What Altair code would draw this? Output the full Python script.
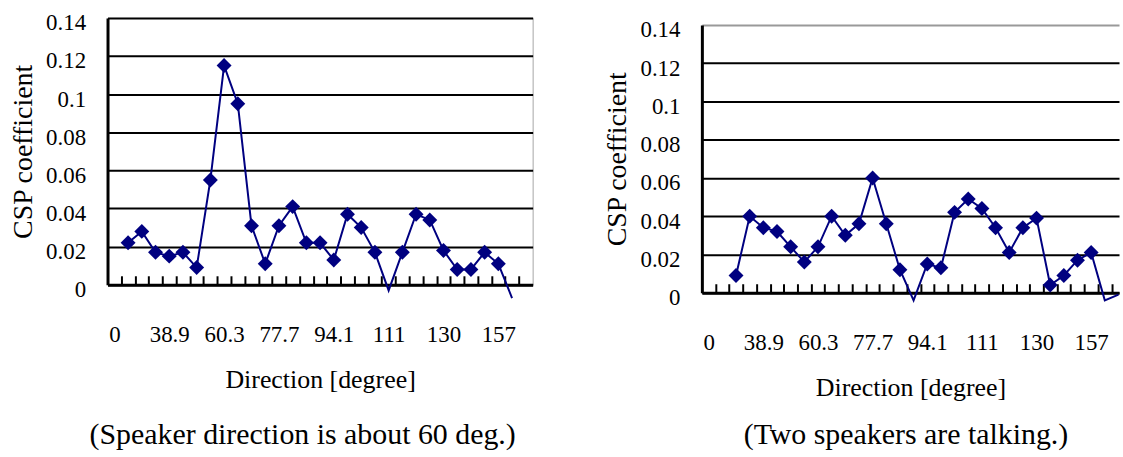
import json
import altair as alt
import pandas as pd

# ---------------- data ----------------
directions = list(range(31))  # category index along the direction axis
tick_label_pos = [0, 4, 8, 12, 16, 20, 24, 28]
tick_labels = ["0", "38.9", "60.3", "77.7", "94.1", "111", "130", "157"]
y_ticks = [0, 0.02, 0.04, 0.06, 0.08, 0.1, 0.12, 0.14]

left_vals = [None, 0.022, 0.028, 0.017, 0.015, 0.017, 0.009, 0.055, 0.115, 0.095,
             0.031, 0.011, 0.031, 0.041, 0.022, 0.022, 0.013, 0.037, 0.030, 0.017,
             -0.003, 0.017, 0.037, 0.034, 0.018, 0.008, 0.008, 0.017, 0.011, -0.007,
             None]
right_vals = [None, None, 0.009, 0.040, 0.034, 0.032, 0.024, 0.016, 0.024, 0.040,
              0.030, 0.036, 0.060, 0.036, 0.012, -0.004, 0.015, 0.013, 0.042, 0.049,
              0.044, 0.034, 0.021, 0.034, 0.039, 0.004, 0.009, 0.017, 0.021, -0.004,
              -0.001]

left_caption = ["(Speaker direction is about 60 deg.)"]
right_caption = ["(Two speakers are talking.)"]
x_title = "Direction [degree]"
y_title = "CSP coefficient"

FONT = "Liberation Serif"
NAVY = "#000080"


def panel(vals, width, height, top_gap, xmax, caption, cap_x, cap_y, top_grid_color, view_stroke,
          spacer_y=None):
    df = pd.DataFrame({"dir": directions, "csp": vals}).dropna()
    df_pts = df[df["csp"] >= 0]
    xscale = alt.Scale(domain=[-0.5, xmax], nice=False, zero=False)
    yscale = alt.Scale(domain=[0, 0.14], nice=False, zero=False, range=[height, top_gap])
    label_expr = f"{json.dumps(tick_labels)}[indexof({json.dumps(tick_label_pos)}, datum.value)]"

    def y_axis():
        return alt.Axis(
            values=y_ticks, format="~g", ticks=False, tickSize=0,
            domainColor="black", domainWidth=3,
            grid=True, gridWidth=2,
            gridColor=alt.condition("datum.value >= 0.139", alt.value(top_grid_color), alt.value("black")),
            labelFont=FONT, labelFontSize=23, labelColor="black", labelPadding=22, labelOffset=5,
            title=y_title, titleFont=FONT, titleFontSize=28, titleFontWeight="normal",
            titleColor="black", titlePadding=8,
        )

    tick_axis = alt.Axis(
        orient="top", offset=-height, values=[i + 0.5 for i in range(30)],
        tickSize=9, tickWidth=2, tickColor="black",
        domainColor="black", domainWidth=3, labels=False, grid=False, title=None,
    )
    label_axis = alt.Axis(
        orient="bottom", values=tick_label_pos, labelExpr=label_expr,
        ticks=False, tickSize=0, domain=False, grid=False,
        labelFont=FONT, labelFontSize=23, labelColor="black", labelPadding=39,
        title=x_title, titleFont=FONT, titleFontSize=26, titleFontWeight="normal",
        titleColor="black", titlePadding=20,
    )

    line = alt.Chart(df).mark_line(color=NAVY, strokeWidth=2).encode(
        x=alt.X("dir:Q", scale=xscale, axis=tick_axis),
        y=alt.Y("csp:Q", scale=yscale, axis=y_axis()),
    )
    pts = alt.Chart(df_pts).mark_point(shape="diamond", filled=True, size=225,
                                       color=NAVY, opacity=1).encode(
        x=alt.X("dir:Q", scale=xscale, axis=label_axis),
        y=alt.Y("csp:Q", scale=yscale, axis=y_axis()),
    )
    cap = alt.Chart(pd.DataFrame({"t": caption})).mark_text(
        font=FONT, fontSize=30, align="center", baseline="alphabetic", color="black"
    ).encode(text="t:N", x=alt.value(cap_x), y=alt.value(cap_y))
    layers = [line, pts, cap]
    if spacer_y is not None:
        layers.append(
            alt.Chart(pd.DataFrame({"t": caption})).mark_rule(color="white", strokeWidth=1).encode(
                x=alt.value(0), x2=alt.value(1), y=alt.value(spacer_y)
            )
        )
    return alt.layer(*layers).resolve_axis(x="independent").properties(
        width=width, height=height, view=alt.ViewBackground(stroke=view_stroke, strokeWidth=1)
    )


left = panel(left_vals, 427, 268, 0, 30.5, left_caption, 196, 428, "black", "#a6a6a6", spacer_y=-16)
right = panel(right_vals, 419, 276, 7, 30.04, right_caption, 205, 428, "#999999", "transparent")

chart = alt.hconcat(left, right, spacing=70).properties(
    padding={"left": 9, "top": 0, "right": 0, "bottom": 0},
    background="white",
)

chart.save("out.html", embed_options={"renderer": "svg", "actions": False})
